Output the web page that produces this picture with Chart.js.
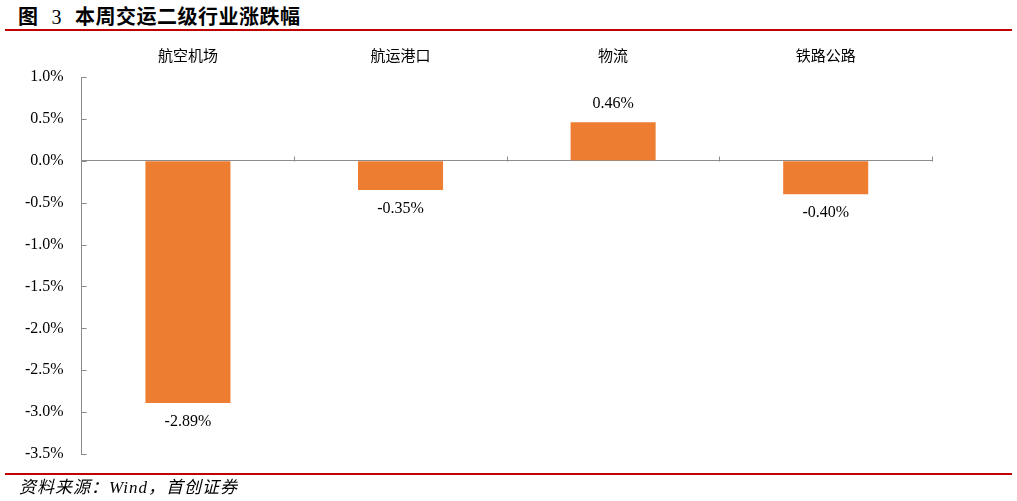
<!DOCTYPE html>
<html>
<head>
<meta charset="utf-8">
<script src="https://cdn.jsdelivr.net/npm/chart.js@4.4.1/dist/chart.umd.min.js"></script>
<style>
  html, body { margin: 0; padding: 0; background: #fff; }
  #wrap { position: relative; width: 1017px; height: 501px; overflow: hidden; }
  #c { position: absolute; left: 0; top: 0; }
  .title { position: absolute; left: 18px; top: 2px; font: 600 20px "Noto Sans CJK SC", sans-serif; color: #000; white-space: pre; line-height: 28px; letter-spacing: 0.5px; }
  .title .num { font-family: "Liberation Serif", serif; font-weight: normal; margin: 0 13px 0 13px; }
  .rule { position: absolute; left: 5px; width: 1007px; height: 2px; background: #c00000; }
  .src { position: absolute; left: 19px; top: 476px; font: italic 17px "Liberation Serif", "Noto Sans CJK SC", serif; color: #000; line-height: 24px; white-space: pre; letter-spacing: 1px; }
</style>
</head>
<body>
<div id="wrap">
  <div class="title">图<span class="num">3</span>本周交运二级行业涨跌幅</div>
  <div class="rule" style="top:29px"></div>
  <canvas id="c" width="1017" height="501"></canvas>
  <div class="rule" style="top:473px"></div>
  <div class="src">资料来源：Wind，首创证券</div>
</div>
<script>
const categories = ['航空机场', '航运港口', '物流', '铁路公路'];
const changes = [-2.89, -0.35, 0.46, -0.40];
const yTicks = { min: -3.5, max: 1.0, step: 0.5 };

const axisGray = '#8c8c8c';

const extras = {
  id: 'extras',
  afterDatasetsDraw(chart) {
    const ctx = chart.ctx;
    const x = chart.scales.x, y = chart.scales.y;
    const area = chart.chartArea;
    ctx.save();
    ctx.strokeStyle = axisGray;
    ctx.lineWidth = 1;
    // y-axis inward tick marks
    y.ticks.forEach(t => {
      const py = Math.round(y.getPixelForValue(t.value)) + 0.5;
      ctx.beginPath();
      ctx.moveTo(area.left, py);
      ctx.lineTo(area.left + 5, py);
      ctx.stroke();
    });
    // category boundary ticks on the zero line
    const zy = Math.round(y.getPixelForValue(0)) + 0.5;
    const bounds = [];
    for (let i = 0; i < categories.length - 1; i++) {
      bounds.push((x.getPixelForValue(i) + x.getPixelForValue(i + 1)) / 2);
    }
    bounds.push(area.right);
    bounds.forEach(bx => {
      const px = Math.round(bx) + 0.5;
      ctx.beginPath();
      ctx.moveTo(px, zy);
      ctx.lineTo(px, zy - 5);
      ctx.stroke();
    });
    // data labels
    ctx.fillStyle = '#000';
    ctx.font = '16px "Liberation Serif", serif';
    ctx.textAlign = 'center';
    ctx.textBaseline = 'middle';
    const meta = chart.getDatasetMeta(0);
    meta.data.forEach((bar, i) => {
      const v = changes[i];
      const ly = v >= 0 ? bar.y - 18 : bar.y + 19;
      ctx.fillText(v.toFixed(2) + '%', bar.x, ly);
    });
    ctx.restore();
  }
};

new Chart(document.getElementById('c'), {
  type: 'bar',
  data: {
    labels: categories,
    datasets: [{
      data: changes,
      backgroundColor: '#ED7D31',
      borderWidth: 0,
      categoryPercentage: 1,
      barPercentage: 0.4
    }]
  },
  options: {
    responsive: false,
    animation: false,
    devicePixelRatio: 1,
    layout: { padding: { left: 7, right: 85, top: 41, bottom: 47 } },
    plugins: { legend: { display: false }, tooltip: { enabled: false } },
    scales: {
      x: {
        position: 'top',
        grid: { display: false },
        border: { display: false },
        ticks: {
          color: '#000',
          padding: 5,
          font: { family: '"Noto Sans CJK SC", sans-serif', size: 15 }
        }
      },
      y: {
        min: yTicks.min,
        max: yTicks.max,
        border: { display: true, color: axisGray, width: 1 },
        grid: {
          drawTicks: false,
          color: c => (Math.abs(c.tick.value) < 1e-9 ? axisGray : 'rgba(0,0,0,0)'),
          lineWidth: 1
        },
        ticks: {
          stepSize: yTicks.step,
          color: '#000',
          padding: 18,
          font: { family: '"Liberation Serif", serif', size: 16 },
          callback: v => (Math.abs(v) < 1e-9 ? 0 : v).toFixed(1) + '%'
        }
      }
    }
  },
  plugins: [extras]
});
</script>
</body>
</html>
